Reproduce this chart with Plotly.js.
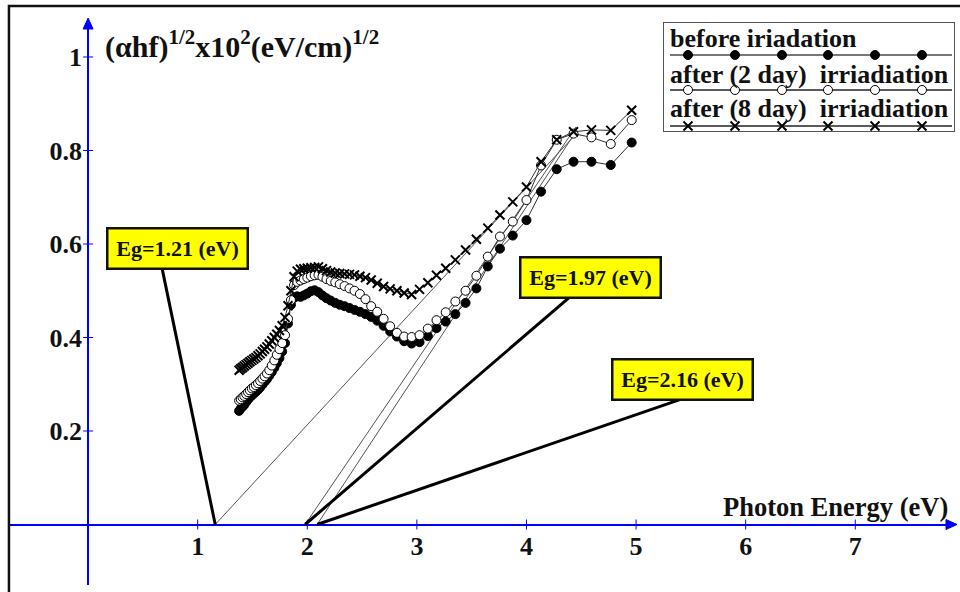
<!DOCTYPE html>
<html>
<head>
<meta charset="utf-8">
<script src="https://cdn.plot.ly/plotly-3.0.1.min.js"></script>
<style>html,body{margin:0;padding:0;background:#fff;}#chart{width:960px;height:592px;}</style>
</head>
<body>
<div id="chart"></div>
<script>
// ---- data ----
const energy = [1.378,1.393,1.409,1.425,1.442,1.459,1.476,1.494,1.512,1.531,1.550,1.570,1.590,1.610,1.632,1.653,1.676,1.699,1.722,1.746,1.771,1.797,1.824,1.851,1.879,1.908,1.938,1.968,2.000,2.033,2.067,2.102,2.138,2.175,2.214,2.255,2.296,2.340,2.385,2.431,2.480,2.531,2.583,2.638,2.696,2.756,2.818,2.884,2.952,3.024,3.100,3.179,3.263,3.351,3.444,3.543,3.647,3.758,3.875,4.000,4.133,4.276,4.429,4.593,4.769,4.960];
const beforeIrr = [0.243,0.248,0.252,0.256,0.262,0.267,0.272,0.276,0.280,0.284,0.288,0.293,0.299,0.305,0.311,0.318,0.326,0.335,0.345,0.356,0.370,0.388,0.430,0.470,0.485,0.488,0.487,0.490,0.494,0.499,0.501,0.497,0.490,0.484,0.479,0.474,0.470,0.467,0.463,0.459,0.455,0.450,0.444,0.436,0.425,0.413,0.402,0.392,0.387,0.390,0.403,0.420,0.434,0.450,0.474,0.505,0.552,0.590,0.618,0.651,0.712,0.760,0.776,0.776,0.769,0.817];
const after2Day = [0.265,0.268,0.272,0.275,0.279,0.283,0.287,0.291,0.294,0.298,0.302,0.307,0.312,0.317,0.323,0.330,0.340,0.351,0.363,0.375,0.388,0.405,0.440,0.480,0.512,0.519,0.522,0.525,0.528,0.531,0.533,0.534,0.530,0.525,0.521,0.518,0.514,0.510,0.505,0.500,0.493,0.482,0.467,0.455,0.440,0.424,0.410,0.402,0.401,0.405,0.419,0.437,0.454,0.477,0.500,0.532,0.573,0.616,0.648,0.694,0.768,0.823,0.836,0.828,0.814,0.865];
const after8Day = [0.330,0.333,0.336,0.339,0.342,0.345,0.348,0.351,0.354,0.357,0.361,0.365,0.370,0.375,0.380,0.386,0.393,0.400,0.407,0.415,0.425,0.443,0.468,0.500,0.530,0.542,0.546,0.547,0.548,0.549,0.550,0.551,0.547,0.543,0.540,0.538,0.537,0.536,0.535,0.534,0.531,0.528,0.523,0.516,0.509,0.504,0.500,0.495,0.492,0.503,0.517,0.533,0.548,0.566,0.587,0.610,0.634,0.662,0.690,0.722,0.776,0.823,0.840,0.844,0.843,0.886];

const seriesNames = ['before iriadation', 'after (2 day)  irriadiation', 'after (8 day)  irriadiation'];
const xTickVals = [1, 2, 3, 4, 5, 6, 7];
const yTickVals = [0.2, 0.4, 0.6, 0.8, 1];
const yTickText = ['0.2', '0.4', '0.6', '0.8', '1'];

// tangent (fit) lines: x-intercept and upper end
const fitStartX = [1.16, 1.98, 2.09];
const fitEndX = [4.45, 4.45, 4.45];
const fitEndY = [0.835, 0.85, 0.84];
const egLabels = ['Eg=1.21 (eV)', 'Eg=1.97 (eV)', 'Eg=2.16 (eV)'];

const xTitle = 'Photon Energy (eV)';
const yTitle = '(αhf)<sup>1/2</sup>x10<sup>2</sup>(eV/cm)<sup>1/2</sup>';

// ---- layout helpers (positions, not data) ----
const XR = [-0.7126, 7.910];
const YR = [-0.1294, 1.0791];
const xPos0 = (0 - XR[0]) / (XR[1] - XR[0]);
const yPos0 = (0 - YR[0]) / (YR[1] - YR[0]);
const serif = "'Liberation Serif', 'Times New Roman', serif";
const BLUE = '#0000ff';

// Eg box centres and leader-line tails (data coordinates)
const egBox = [{x: 0.820, y: 0.591}, {x: 4.580, y: 0.528}, {x: 5.428, y: 0.311}];
const egTail = [{x: 0.674, y: 0.549}, {x: 4.397, y: 0.487}, {x: 5.446, y: 0.271}];

// legend geometry (x2/y2 are pixel-like axes)
const legRowsY = [55, 90, 126];
const legTextY = [39, 75, 109];
const legMarkX = [688, 735, 782, 828, 875, 922];
const legLineX = [670, 952];

const markerStyles = [
  {symbol: 'circle', size: 9, color: '#000', line: {color: '#000', width: 1}},
  {symbol: 'circle', size: 9, color: '#fff', line: {color: '#000', width: 1}},
  {symbol: 'x-thin', size: 9, color: '#000', line: {color: '#000', width: 2}}
];
const seriesY = [beforeIrr, after2Day, after8Day];

const traces = [];
// fit lines
for (let i = 0; i < fitStartX.length; i++) {
  traces.push({x: [fitStartX[i], fitEndX[i]], y: [0, fitEndY[i]], mode: 'lines',
    line: {color: '#555', width: 1}, hoverinfo: 'skip', showlegend: false});
}
// data series
for (let i = 0; i < seriesY.length; i++) {
  traces.push({x: energy, y: seriesY[i], name: seriesNames[i], mode: 'lines+markers',
    line: {color: '#333', width: 1}, marker: markerStyles[i], showlegend: false});
}
// legend samples
const legLineStyle = [{color: '#777', width: 2}, {color: '#222', width: 1.5}, {color: '#222', width: 1.5}];
for (let i = 0; i < 3; i++) {
  traces.push({x: legLineX, y: [legRowsY[i], legRowsY[i]], xaxis: 'x2', yaxis: 'y2', mode: 'lines',
    line: legLineStyle[i], hoverinfo: 'skip', showlegend: false});
  traces.push({x: legMarkX, y: legMarkX.map(() => legRowsY[i]), xaxis: 'x2', yaxis: 'y2', mode: 'markers',
    marker: markerStyles[i], hoverinfo: 'skip', showlegend: false});
}

const shapes = [];
// frame
shapes.push({type: 'rect', xref: 'paper', yref: 'paper', x0: -0.0011, x1: 1.1, y0: -0.2, y1: 1.0248,
  line: {color: '#111', width: 2.5}, fillcolor: 'rgba(0,0,0,0)'});
// crossing ticks
xTickVals.forEach(v => shapes.push({type: 'line', xref: 'x', yref: 'y', ysizemode: 'pixel', yanchor: 0,
  x0: v, x1: v, y0: -5, y1: 5, line: {color: BLUE, width: 1}}));
yTickVals.forEach(v => shapes.push({type: 'line', xref: 'x', yref: 'y', xsizemode: 'pixel', xanchor: 0,
  y0: v, y1: v, x0: -5, x1: 5, line: {color: BLUE, width: 1}}));
// axis arrowheads
shapes.push({type: 'path', xref: 'paper', yref: 'y', xsizemode: 'pixel', ysizemode: 'pixel', xanchor: 1, yanchor: 0,
  path: 'M 2 0 L -9 5 L -9 -5 Z', fillcolor: BLUE, line: {color: BLUE, width: 1}});
shapes.push({type: 'path', xref: 'x', yref: 'paper', xsizemode: 'pixel', ysizemode: 'pixel', xanchor: 0, yanchor: 1,
  path: 'M 0 2 L 5 -9 L -5 -9 Z', fillcolor: BLUE, line: {color: BLUE, width: 1}});
// leader lines
for (let i = 0; i < fitStartX.length; i++) {
  shapes.push({type: 'line', xref: 'x', yref: 'y', x0: fitStartX[i], y0: 0, x1: egTail[i].x, y1: egTail[i].y,
    line: {color: '#000', width: 3}});
}
// legend box
shapes.push({type: 'rect', xref: 'x2', yref: 'y2', x0: 663, x1: 955, y0: 22, y1: 132,
  line: {color: '#555', width: 2}, fillcolor: '#fff', layer: 'below'});

const annotations = [];
// titles
annotations.push({xref: 'paper', yref: 'paper', x: 0.0984, y: 0.9575, xanchor: 'left', yanchor: 'middle',
  text: yTitle, showarrow: false, font: {family: serif, size: 30, color: '#111', weight: 'bold'}});
annotations.push({xref: 'paper', yref: 'paper', x: 0.9947, y: 0.138, xanchor: 'right', yanchor: 'middle',
  text: xTitle, showarrow: false, font: {family: serif, size: 26.5, color: '#111', weight: 'bold'}});
// Eg boxes
for (let i = 0; i < egLabels.length; i++) {
  annotations.push({xref: 'x', yref: 'y', x: egBox[i].x, y: egBox[i].y, text: egLabels[i], showarrow: false,
    bgcolor: '#ffff00', bordercolor: '#111', borderwidth: 2.5, borderpad: 3, width: 132, height: 32,
    font: {family: serif, size: 22, color: '#111', weight: 'bold'}});
}
// legend text
for (let i = 0; i < 3; i++) {
  annotations.push({xref: 'x2', yref: 'y2', x: 668, y: legTextY[i], xanchor: 'left', yanchor: 'middle',
    text: seriesNames[i].replace(/  /g, '&nbsp; '), showarrow: false,
    font: {family: serif, size: 26, color: '#111', weight: 'bold'}});
}

const layout = {
  width: 960, height: 592,
  margin: {l: 10, r: 5, t: 20, b: 7},
  paper_bgcolor: '#fff', plot_bgcolor: '#fff',
  showlegend: false,
  xaxis: {range: XR, anchor: 'free', position: yPos0, showline: true, linecolor: BLUE, linewidth: 2,
    showgrid: false, zeroline: false, tickvals: xTickVals, ticks: '', ticklabelstandoff: -2,
    tickfont: {family: serif, size: 26, color: '#111', weight: 'bold'}, fixedrange: true},
  yaxis: {range: YR, anchor: 'free', position: xPos0, showline: true, linecolor: BLUE, linewidth: 2,
    showgrid: false, zeroline: false, tickvals: yTickVals, ticktext: yTickText, ticks: '', ticklabelstandoff: 0,
    tickfont: {family: serif, size: 26, color: '#111', weight: 'bold'}, fixedrange: true},
  xaxis2: {domain: [0.691, 1.0], range: [663, 955], anchor: 'y2', visible: false, fixedrange: true},
  yaxis2: {domain: [0.8018, 0.9965], range: [132, 22], anchor: 'x2', visible: false, fixedrange: true},
  shapes: shapes,
  annotations: annotations
};

Plotly.newPlot('chart', traces, layout, {displayModeBar: false, staticPlot: true});
</script>
</body>
</html>
